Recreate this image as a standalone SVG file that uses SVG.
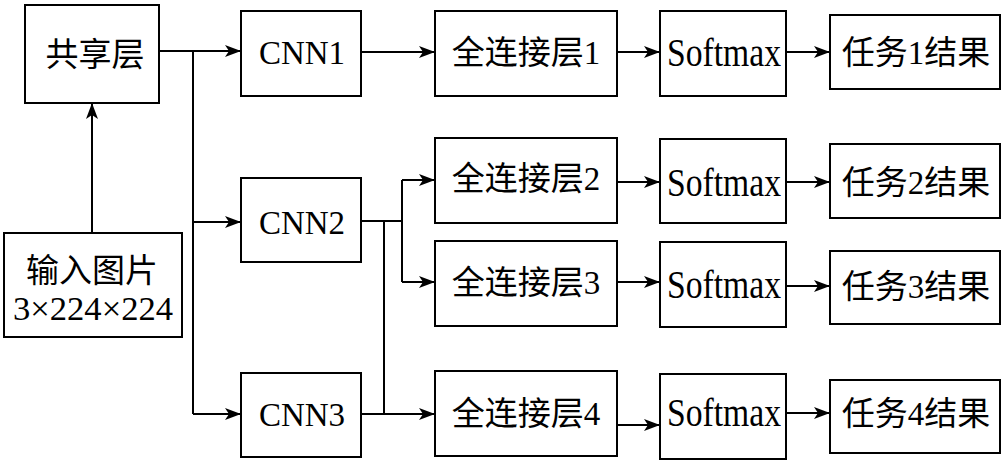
<svg xmlns="http://www.w3.org/2000/svg" width="1003" height="464" viewBox="0 0 1003 464">
<style>
.box{fill:#fff;stroke:#000;stroke-width:2}
.t{font-family:"Liberation Serif","Noto Sans CJK SC",serif;font-size:33px;fill:#000;text-anchor:middle}
.s{font-size:40px}
.c{fill:none;stroke:#000;stroke-width:2}
</style>
<defs>
<marker id="ah" viewBox="0 0 16 12" refX="16" refY="6" markerWidth="16" markerHeight="12" orient="auto" markerUnits="userSpaceOnUse">
<path d="M0,0 L16,6 L0,12 L4,6 Z" fill="#000"/>
</marker>
</defs>
<rect width="1003" height="464" fill="#fff"/>
<g id="connectors">
<path class="c" d="M92,233 V103" marker-end="url(#ah)"/>
<path class="c" d="M159,51 H241" marker-end="url(#ah)"/>
<path class="c" d="M193,51 V414"/>
<path class="c" d="M193,222 H241" marker-end="url(#ah)"/>
<path class="c" d="M193,414 H241" marker-end="url(#ah)"/>
<path class="c" d="M361,52 H435" marker-end="url(#ah)"/>
<path class="c" d="M617,52 H660" marker-end="url(#ah)"/>
<path class="c" d="M786,52 H830" marker-end="url(#ah)"/>
<path class="c" d="M361,221 H402"/>
<path class="c" d="M402,180 V282"/>
<path class="c" d="M402,180 H435" marker-end="url(#ah)"/>
<path class="c" d="M402,282 H435" marker-end="url(#ah)"/>
<path class="c" d="M384,221 V414"/>
<path class="c" d="M361,414 H435" marker-end="url(#ah)"/>
<path class="c" d="M617,182 H660" marker-end="url(#ah)"/>
<path class="c" d="M786,182 H830" marker-end="url(#ah)"/>
<path class="c" d="M617,282 H660" marker-end="url(#ah)"/>
<path class="c" d="M786,286 H830" marker-end="url(#ah)"/>
<path class="c" d="M617,425 H660" marker-end="url(#ah)"/>
<path class="c" d="M786,413 H830" marker-end="url(#ah)"/>
</g>
<g id="shared"><rect class="box" x="25" y="5" width="134" height="98"/><text class="t" x="95" y="66">共享层</text></g>
<g id="input"><rect class="box" x="4" y="233" width="178" height="104"/><text class="t" x="92" y="282">输入图片</text><text class="t" x="93" y="320" font-size="35" textLength="160" lengthAdjust="spacingAndGlyphs">3×224×224</text></g>
<g id="cnn1"><rect class="box" x="241" y="11" width="120" height="85"/><text class="t" x="302" y="64">CNN1</text></g>
<g id="cnn2"><rect class="box" x="241" y="178" width="120" height="84"/><text class="t" x="302" y="234">CNN2</text></g>
<g id="cnn3"><rect class="box" x="241" y="373" width="120" height="84"/><text class="t" x="302" y="426">CNN3</text></g>
<g id="fc1"><rect class="box" x="435" y="11" width="182" height="85"/><text class="t" x="526" y="64">全连接层1</text></g>
<g id="fc2"><rect class="box" x="435" y="138" width="182" height="85"/><text class="t" x="526" y="190">全连接层2</text></g>
<g id="fc3"><rect class="box" x="435" y="241" width="182" height="85"/><text class="t" x="526" y="294">全连接层3</text></g>
<g id="fc4"><rect class="box" x="435" y="371" width="182" height="85"/><text class="t" x="526" y="425">全连接层4</text></g>
<g id="sm1"><rect class="box" x="660" y="11" width="126" height="85"/><text class="t s" x="724" y="66" textLength="114" lengthAdjust="spacingAndGlyphs">Softmax</text></g>
<g id="sm2"><rect class="box" x="660" y="139" width="126" height="84"/><text class="t s" x="724" y="196" textLength="114" lengthAdjust="spacingAndGlyphs">Softmax</text></g>
<g id="sm3"><rect class="box" x="660" y="242" width="126" height="85"/><text class="t s" x="724" y="298" textLength="114" lengthAdjust="spacingAndGlyphs">Softmax</text></g>
<g id="sm4"><rect class="box" x="660" y="374" width="126" height="85"/><text class="t s" x="724" y="426" textLength="114" lengthAdjust="spacingAndGlyphs">Softmax</text></g>
<g id="res1"><rect class="box" x="830" y="15" width="170" height="74"/><text class="t" x="916" y="64">任务1结果</text></g>
<g id="res2"><rect class="box" x="830" y="144" width="170" height="74"/><text class="t" x="916" y="194">任务2结果</text></g>
<g id="res3"><rect class="box" x="830" y="251" width="170" height="73"/><text class="t" x="916" y="298">任务3结果</text></g>
<g id="res4"><rect class="box" x="830" y="380" width="170" height="73"/><text class="t" x="916" y="425">任务4结果</text></g>
</svg>
